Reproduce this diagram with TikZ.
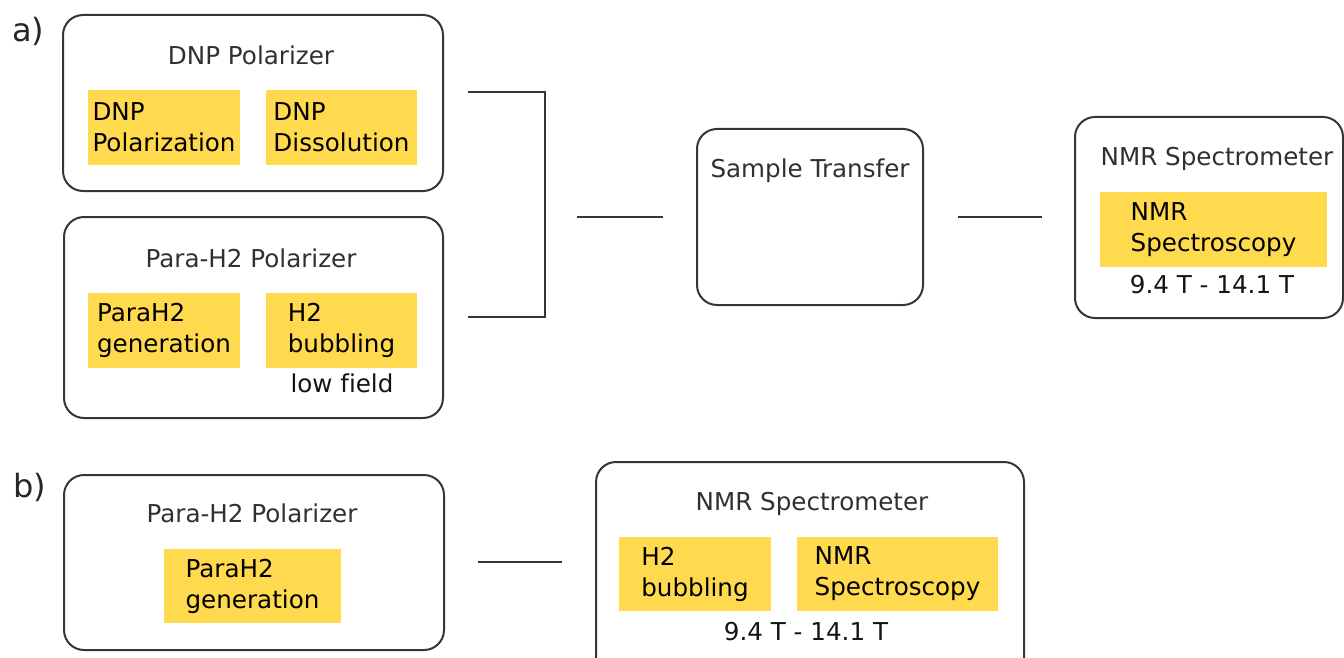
\documentclass[tikz,border=0pt]{standalone}
\usepackage{fontspec}
\setmainfont{DejaVu Sans}[Ligatures=NoCommon]
\usetikzlibrary{calc}
\definecolor{linegray}{HTML}{363636}
\definecolor{titlegray}{HTML}{303030}
\definecolor{hlyellow}{HTML}{FFD94E}
\begin{document}
\begin{tikzpicture}[x=1pt,y=-1pt,
  frame/.style={draw=linegray, line width=2pt, rounded corners=20pt, inner sep=0pt},
  title/.style={text=titlegray, font=\fontsize{24.6}{31}\selectfont, inner sep=0pt, anchor=base},
  task/.style={fill=hlyellow, text=black, font=\fontsize{24.6}{31}\selectfont,
    align=left, inner sep=0pt},
  note/.style={text=black!92, font=\fontsize{24.6}{31}\selectfont, inner sep=0pt, anchor=base},
  panel/.style={text=black!85, font=\fontsize{32}{38}\selectfont, inner sep=0pt, anchor=base west},
  link/.style={draw=linegray, line width=2pt}]
\useasboundingbox (0,0) rectangle (1344,658);

% ---- panel a) ----
\node[panel] (labA) at (12,42) {a)};

\node[frame, minimum width=380, minimum height=176] (dnp) at (253,103) {};
\node[title] (dnpT) at (251,65) {DNP Polarizer};
\node[task, minimum width=152, minimum height=75] (dnpPol) at (164,127.5) {DNP\\Polarization};
\node[task, minimum width=151, minimum height=75] (dnpDis) at (341.5,127.5) {DNP\\Dissolution};

\node[frame, minimum width=379, minimum height=201] (para) at (253.5,317.5) {};
\node[title] (paraT) at (251,267) {Para-H2 Polarizer};
\node[task, minimum width=152, minimum height=75] (paraGen) at (164,330.5) {ParaH2\\generation};
\node[task, minimum width=151, minimum height=75] (paraBub) at (341.5,330.5) {H2\\bubbling};
\node[note] (lowF) at (342,392) {low field};

\node[frame, minimum width=226, minimum height=176] (transfer) at (810,217) {};
\node[title] (transferT) at (810,177) {Sample Transfer};

\node[frame, minimum width=268, minimum height=201] (nmrA) at (1209,217.5) {};
\node[title] (nmrAT) at (1217,165) {NMR Spectrometer};
\node[task, minimum width=227, minimum height=75] (nmrASpec) at (1213.5,229.5) {NMR\\Spectroscopy};
\node[note] (nmrAF) at (1212,293) {9.4 T - 14.1 T};

% bracket joining both polarizers
\coordinate (brTop) at (468,92);
\coordinate (brTopR) at (545,92);
\coordinate (brBot) at (468,317);
\coordinate (brBotR) at (545,317);
\coordinate (brMid) at (545,217);
\draw[link] (brTop) -- (brTopR) -- (brBotR) -- (brBot);
\draw[link, shorten <=32pt, shorten >=33pt] (brMid) -- (brMid -| transfer.west);
\draw[link, shorten <=34pt, shorten >=32pt] (transfer.east) -- (transfer.east -| nmrA.west);

% ---- panel b) ----
\node[panel] (labB) at (13,497) {b)};

\node[frame, minimum width=380, minimum height=175] (paraB) at (254,562.5) {};
\node[title] (paraBT) at (252,522) {Para-H2 Polarizer};
\node[task, minimum width=177, minimum height=74] (paraBGen) at (252.5,586) {ParaH2\\generation};

\node[frame, minimum width=428, minimum height=228] (nmrB) at (810,576) {};
\node[title] (nmrBT) at (812,510) {NMR Spectrometer};
\node[task, minimum width=152, minimum height=74] (nmrBBub) at (695,574) {H2\\bubbling};
\node[task, minimum width=201, minimum height=74] (nmrBSpec) at (897.5,574) {NMR\\Spectroscopy};
\node[note] (nmrBF) at (806,640) {9.4 T - 14.1 T};

\coordinate (linkB) at (paraB.east |- 0,562);
\draw[link, shorten <=33pt, shorten >=33pt] (linkB) -- (linkB -| nmrB.west);
\end{tikzpicture}
\end{document}
